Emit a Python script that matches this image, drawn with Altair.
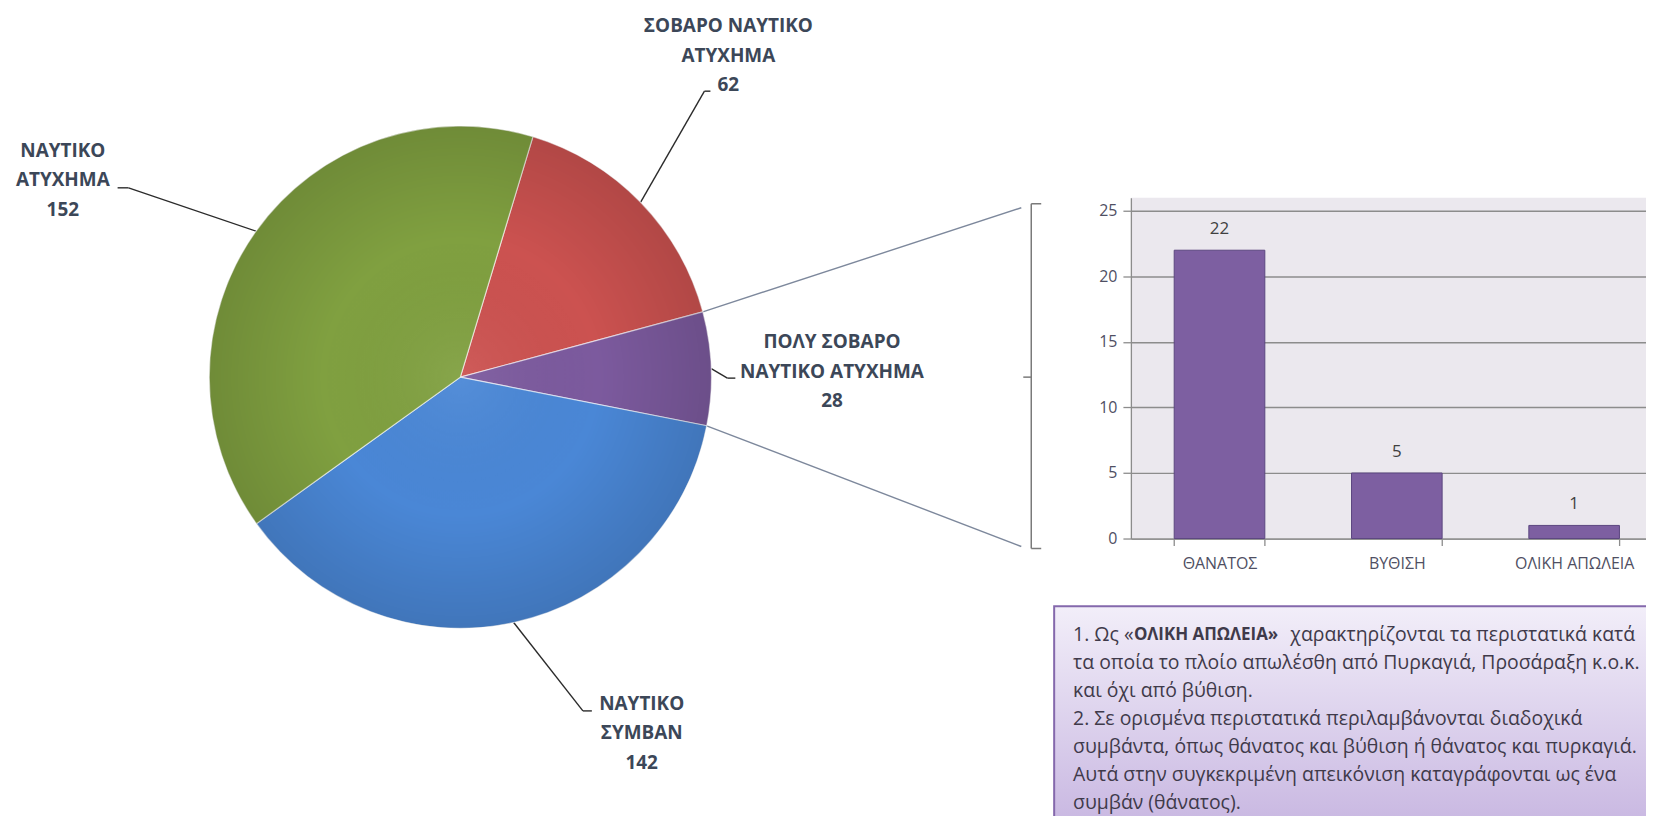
import math
import altair as alt
import pandas as pd

# ---------------- data ----------------
pie_categories = ["ΣΟΒΑΡΟ ΝΑΥΤΙΚΟ ΑΤΥΧΗΜΑ", "ΠΟΛΥ ΣΟΒΑΡΟ ΝΑΥΤΙΚΟ ΑΤΥΧΗΜΑ",
                  "ΝΑΥΤΙΚΟ ΣΥΜΒΑΝ", "ΝΑΥΤΙΚΟ ΑΤΥΧΗΜΑ"]
pie_values = [62, 28, 142, 152]
pie_label_lines = [["ΣΟΒΑΡΟ ΝΑΥΤΙΚΟ", "ΑΤΥΧΗΜΑ"],
                   ["ΠΟΛΥ ΣΟΒΑΡΟ", "ΝΑΥΤΙΚΟ ΑΤΥΧΗΜΑ"],
                   ["ΝΑΥΤΙΚΟ", "ΣΥΜΒΑΝ"],
                   ["ΝΑΥΤΙΚΟ", "ΑΤΥΧΗΜΑ"]]
pie_colors = ["#CC5250", "#7C5A9E", "#4A87D6", "#80A040"]

bar_categories = ["ΘΑΝΑΤΟΣ", "ΒΥΘΙΣΗ", "ΟΛΙΚΗ ΑΠΩΛΕΙΑ"]
bar_values = [22, 5, 1]
y_ticks = [0, 5, 10, 15, 20, 25]

note_line1_pre = "1. Ως «"
note_bold = "ΟΛΙΚΗ ΑΠΩΛΕΙΑ»"
note_line1_post = "χαρακτηρίζονται τα περιστατικά κατά"
note_lines = ["τα οποία το πλοίο απωλέσθη από Πυρκαγιά, Προσάραξη κ.ο.κ.",
              "και όχι από βύθιση.",
              "2. Σε ορισμένα περιστατικά περιλαμβάνονται διαδοχικά",
              "συμβάντα, όπως θάνατος και βύθιση ή θάνατος και πυρκαγιά.",
              "Αυτά στην συγκεκριμένη απεικόνιση καταγράφονται ως ένα",
              "συμβάν (θάνατος)."]

# ---------------- layout (page pixels) ----------------
OX, OY = 1135, 197          # top-left of the bar plot area on the page
PW, PH = 517, 342           # bar plot area size
def X(x): return x - OX
def Y(y): return y - OY

FONT = "Open Sans"
PCX, PCY, PR = 462, 377, 252  # pie centre and radius
START = math.radians(16.8)

total = sum(pie_values)
angles = []
cum = START
for v in pie_values:
    a0 = cum
    a1 = cum + v / total * 2 * math.pi
    angles.append((a0, a1))
    cum = a1
def edge(a):
    return PCX + PR * math.sin(a), PCY - PR * math.cos(a)

# ---------------- pie ----------------
pie_df = pd.DataFrame({"cat": pie_categories, "value": pie_values,
                       "ord": list(range(len(pie_values)))})
pie = alt.Chart(pie_df).mark_arc(radius=PR, stroke="#ffffff", strokeWidth=1.2,
                                 strokeOpacity=0.6).encode(
    theta=alt.Theta("value:Q", stack=True,
                    scale=alt.Scale(range=[START, START + 2 * math.pi])),
    order=alt.Order("ord:Q"),
    color=alt.Color("cat:N", scale=alt.Scale(domain=pie_categories, range=pie_colors),
                    legend=None),
    x=alt.value(X(PCX)), y=alt.value(Y(PCY)),
)
shade = alt.Chart(pd.DataFrame({"a": [1]})).mark_arc(
    radius=PR, theta=0, theta2=2 * math.pi,
    color=alt.Gradient(gradient="radial",
                       stops=[alt.GradientStop(color="rgba(255,255,255,0.06)", offset=0),
                              alt.GradientStop(color="rgba(0,0,0,0)", offset=0.55),
                              alt.GradientStop(color="rgba(0,0,0,0.13)", offset=1)],
                       x1=0.5, y1=0.5, r1=0, x2=0.5, y2=0.5, r2=0.5)).encode(
    x=alt.value(X(PCX)), y=alt.value(Y(PCY)))

# ---------------- lines ----------------
rules = []
LEAD = "#2B2B2B"
elbows = [((707, 90), (713, 90)),
          ((730, 378), (738, 378)),
          ((585, 712), (594, 712)),
          ((129, 187), (118, 187))]
for (a0, a1), (elb, end) in zip(angles, elbows):
    ax, ay = edge((a0 + a1) / 2)
    rules.append((ax, ay, elb[0], elb[1], LEAD, 1.4))
    rules.append((elb[0], elb[1], end[0], end[1], LEAD, 1.4))
CON = "#7D889C"
p0, p1 = angles[1]
sx, sy = edge(p0)
rules.append((sx, sy, 1025, 207, CON, 1.4))
sx, sy = edge(p1)
rules.append((sx, sy, 1025, 547, CON, 1.4))
BR = "#7A7A7A"
rules += [(1035, 203, 1035, 549, BR, 1.5), (1035, 203, 1045, 203, BR, 1.5),
          (1035, 549, 1045, 549, BR, 1.5), (1027, 377, 1035, 377, BR, 1.5)]
rule_df = pd.DataFrame(rules, columns=["x", "y", "x2", "y2", "c", "w"])
for col in ["x", "x2"]:
    rule_df[col] = rule_df[col].map(X)
for col in ["y", "y2"]:
    rule_df[col] = rule_df[col].map(Y)
rule_layer = alt.Chart(rule_df).mark_rule().encode(
    x=alt.X("x:Q", scale=None), y=alt.Y("y:Q", scale=None),
    x2="x2:Q", y2="y2:Q",
    color=alt.Color("c:N", scale=None),
    strokeWidth=alt.StrokeWidth("w:Q", scale=None),
)

# ---------------- pie labels ----------------
label_pos = [(731, 25), (835, 342), (644, 705), (63, 150)]
LH = 29.5
lab_rows = []
for lines, v, (lx, ly) in zip(pie_label_lines, pie_values, label_pos):
    for i, t in enumerate(lines + [str(v)]):
        lab_rows.append((X(lx), Y(ly + i * LH), t))
lab_df = pd.DataFrame(lab_rows, columns=["x", "y", "t"])
pie_labels = alt.Chart(lab_df).mark_text(
    font=FONT, fontSize=19, fontWeight="bold", color="#3C4758",
    align="center", baseline="middle").encode(
    x=alt.X("x:Q", scale=None), y=alt.Y("y:Q", scale=None), text="t:N")

# ---------------- note box ----------------
box = alt.Chart(pd.DataFrame({"a": [0]})).mark_rect(
    color=alt.Gradient(gradient="linear",
                       stops=[alt.GradientStop(color="#F2EEF9", offset=0),
                              alt.GradientStop(color="#C6B4E0", offset=1)],
                       x1=0, x2=0, y1=0, y2=1),
    stroke="#8468AC", strokeWidth=2).encode(
    x=alt.value(X(1058)), x2=alt.value(X(1680)),
    y=alt.value(Y(607)), y2=alt.value(Y(840)))

NFS = 19.5
NL = 28
NY0 = 636
NTXT = "#3F3A4A"
reg_rows = [(X(1077), Y(NY0), note_line1_pre)]
for i, t in enumerate(note_lines):
    reg_rows.append((X(1077), Y(NY0 + (i + 1) * NL), t))
reg_df = pd.DataFrame(reg_rows, columns=["x", "y", "t"])
note_reg = alt.Chart(reg_df).mark_text(
    font=FONT, fontSize=NFS, color=NTXT, align="left", baseline="middle").encode(
    x=alt.X("x:Q", scale=None), y=alt.Y("y:Q", scale=None), text="t:N")
post_df = pd.DataFrame([(X(1641), Y(NY0), note_line1_post)], columns=["x", "y", "t"])
note_post = alt.Chart(post_df).mark_text(
    font=FONT, fontSize=NFS, color=NTXT, align="right", baseline="middle").encode(
    x=alt.X("x:Q", scale=None), y=alt.Y("y:Q", scale=None), text="t:N")
bold_df = pd.DataFrame([(X(1138), Y(NY0), note_bold)], columns=["x", "y", "t"])
note_bold_l = alt.Chart(bold_df).mark_text(
    font=FONT, fontSize=17, fontWeight="bold", color=NTXT, align="left",
    baseline="middle").encode(
    x=alt.X("x:Q", scale=None), y=alt.Y("y:Q", scale=None), text="t:N")

# ---------------- bar chart ----------------
bar_df = pd.DataFrame({"cat": bar_categories, "value": bar_values})
xenc = alt.X("cat:N", sort=bar_categories,
             scale=alt.Scale(paddingInner=0.489, paddingOuter=0.197, align=0.62),
             axis=alt.Axis(title=None, labelAngle=0, tickBand="extent", tickSize=7,
                           domainColor="#8C8C8C", tickColor="#8C8C8C", tickWidth=1.3,
                           domainWidth=1.3, labelFont=FONT, labelFontSize=16,
                           labelColor="#4F4F63", labelPadding=10, grid=False))
yenc = alt.Y("value:Q", scale=alt.Scale(domain=[0, 25]),
             axis=alt.Axis(title=None, values=y_ticks, grid=True, gridColor="#8C8C8C",
                           gridWidth=1.3, domainColor="#8C8C8C", domainWidth=1.3,
                           tickColor="#8C8C8C", tickWidth=1.3, tickSize=8,
                           labelFont=FONT, labelFontSize=16, labelColor="#4F4F63",
                           labelPadding=6))
bars = alt.Chart(bar_df).mark_bar(color="#7D5FA1", stroke="#5B4680",
                                  strokeWidth=1).encode(x=xenc, y=yenc)
bar_text = alt.Chart(bar_df).mark_text(
    font=FONT, fontSize=17, color="#404040", dy=-21, baseline="middle").encode(
    x=alt.X("cat:N", sort=bar_categories), y=alt.Y("value:Q"), text="value:Q")
bar_layer = alt.layer(bars, bar_text)

chart = alt.layer(
    box, note_reg, note_post, note_bold_l, rule_layer, pie, shade, pie_labels, bar_layer
).resolve_scale(x="independent", y="independent").properties(
    width=PW, height=PH,
    autosize=alt.AutoSizeParams(type="none"),
    padding={"left": OX - 8, "top": OY - 8, "right": 0, "bottom": 277},
).configure_view(fill="#EBE8EE", strokeWidth=0)

chart.save("out.html", embed_options={"renderer": "svg", "actions": False})
